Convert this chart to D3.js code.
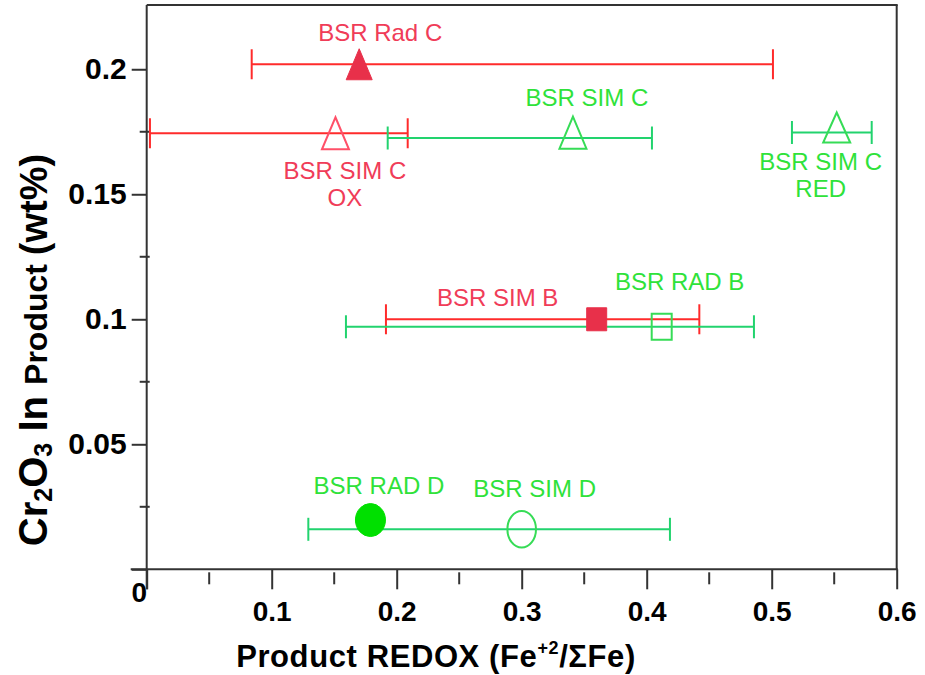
<!DOCTYPE html>
<html>
<head>
<meta charset="utf-8">
<script src="https://cdn.jsdelivr.net/npm/d3@7"></script>
<style>
  html, body { margin: 0; padding: 0; background: #fff; }
  svg { display: block; }
  text { font-family: "Liberation Sans", Arial, sans-serif; }
</style>
</head>
<body>
<svg id="chart" width="925" height="675"></svg>
<script>
// Sample names, product redox (Fe+2/ΣFe) and Cr2O3 content (wt%)
const sampleLabels = [
  ["BSR Rad C"],
  ["BSR SIM C", "OX"],
  ["BSR SIM C"],
  ["BSR SIM C", "RED"],
  ["BSR SIM B"],
  ["BSR RAD B"],
  ["BSR RAD D"],
  ["BSR SIM D"]
];
const redox     = [0.170, 0.151, 0.341, 0.552, 0.360, 0.412, 0.179, 0.300];
const cr2o3     = [0.202, 0.1744, 0.1725, 0.1747, 0.1000, 0.0970, 0.0197, 0.0160];
// Redox range (error bar ends); null where no bar is drawn
const redoxLow  = [0.084, 0.0026, 0.1928, 0.5162, 0.1914, 0.1594, null, 0.1293];
const redoxHigh = [0.501, 0.2088, 0.4042, 0.5800, 0.4421, 0.4858, null, 0.4186];
const sampleGroup = ["red", "red", "green", "green", "red", "green", "green", "green"];
const markerShape = ["triangle", "triangle", "triangle", "triangle", "square", "square", "circle", "circle"];
const markerFilled = [true, false, false, false, true, false, true, false];

// Axis ticks
const xMajorTicks = [0, 0.1, 0.2, 0.3, 0.4, 0.5, 0.6];
const xMinorTicks = [0.05, 0.15, 0.25, 0.35, 0.45, 0.55];
const yMajorTicks = [0, 0.05, 0.1, 0.15, 0.2];
const yMinorTicks = [0.025, 0.075, 0.125, 0.175];
const xTickLabels = ["0", "0.1", "0.2", "0.3", "0.4", "0.5", "0.6"];
const yTickLabels = ["", "0.05", "0.1", "0.15", "0.2"];

// ---- styling / layout (pixels) ----
const markerSize = [
  {w: 26, h: 31}, {w: 27, h: 32}, {w: 27, h: 32}, {w: 27, h: 30},
  {w: 20, h: 23}, {w: 20, h: 26}, {w: 30, h: 33}, {w: 28.6, h: 36.6}
];
// labels placed relative to their marker
const labelOffset = [
  {dx: 21, dy: -32}, {dx: 9.5, dy: 37}, {dx: 14, dy: -41}, {dx: -16, dy: 29},
  {dx: -99, dy: -22}, {dx: 18, dy: -45}, {dx: 8.5, dy: -35}, {dx: 13, dy: -41}
];
const palette = {
  red:   {bar: "#ff2b2b", fill: "#e8304a", stroke: "#ff5068", text: "#f03c58", cap: 30},
  green: {bar: "#22d36e", fill: "#00e000", stroke: "#36dc56", text: "#2fe23a", cap: 23}
};

const svg = d3.select("#chart");
svg.append("rect").attr("width", 925).attr("height", 675).attr("fill", "#fff");

const x = d3.scaleLinear().domain([0, 0.6]).range([146.7, 896.7]);
const y = d3.scaleLinear().domain([0, 0.2257]).range([569.3, 5]);

const axisColor = "#333";

// ---- frame ----
const frame = svg.append("g").attr("stroke", axisColor).attr("stroke-width", 2).attr("fill", "none");
frame.append("line").attr("x1", x(0)).attr("x2", x(0.6) + 1).attr("y1", y(0.2257)).attr("y2", y(0.2257));
frame.append("line").attr("x1", x(0.6)).attr("x2", x(0.6)).attr("y1", y(0.2257)).attr("y2", y(0));

// ---- x axis ----
const xAxis = svg.append("g")
  .attr("transform", `translate(0,${y(0)})`)
  .call(d3.axisBottom(x).tickValues(xMajorTicks).tickSize(20).tickPadding(12)
        .tickFormat((d, i) => xTickLabels[i]));
xAxis.select(".domain").remove();
xAxis.selectAll(".tick line").attr("stroke", axisColor).attr("stroke-width", 2);
xAxis.selectAll(".tick text")
  .attr("fill", "#000").attr("font-size", 28).attr("font-weight", "bold")
  .attr("font-family", "'Liberation Sans', Arial, sans-serif");
xAxis.selectAll(".tick").filter(d => d === 0).select("text")
  .attr("transform", "translate(-8,-19)");
svg.append("line").attr("stroke", axisColor).attr("stroke-width", 2)
  .attr("x1", x(0) - 16).attr("x2", x(0.6) + 1).attr("y1", y(0)).attr("y2", y(0));
svg.append("g").selectAll("line").data(xMinorTicks).join("line")
  .attr("stroke", axisColor).attr("stroke-width", 2)
  .attr("x1", d => x(d)).attr("x2", d => x(d))
  .attr("y1", y(0) + 3).attr("y2", y(0) + 15);

// ---- y axis ----
const yAxis = svg.append("g")
  .attr("transform", `translate(${x(0)},0)`)
  .call(d3.axisLeft(y).tickValues(yMajorTicks).tickSize(15).tickPadding(5)
        .tickFormat((d, i) => yTickLabels[i]));
yAxis.select(".domain").remove();
yAxis.selectAll(".tick line").attr("stroke", axisColor).attr("stroke-width", 2);
yAxis.selectAll(".tick text")
  .attr("fill", "#000").attr("font-size", 30).attr("font-weight", "bold")
  .attr("font-family", "'Liberation Sans', Arial, sans-serif");
svg.append("line").attr("stroke", axisColor).attr("stroke-width", 2)
  .attr("x1", x(0)).attr("x2", x(0)).attr("y1", y(0.2257)).attr("y2", y(0) + 20);
svg.append("g").selectAll("line").data(yMinorTicks).join("line")
  .attr("stroke", axisColor).attr("stroke-width", 2)
  .attr("x1", x(0) - 7).attr("x2", x(0) + 3)
  .attr("y1", d => y(d)).attr("y2", d => y(d));

// ---- axis titles ----
const xTitle = svg.append("text")
  .attr("x", 436).attr("y", 667)
  .attr("text-anchor", "middle").attr("font-size", 31).attr("font-weight", "bold")
  .attr("letter-spacing", 0.6).attr("fill", "#000");
xTitle.append("tspan").text("Product REDOX (Fe");
xTitle.append("tspan").attr("font-size", 18).attr("dy", -13).text("+2");
xTitle.append("tspan").attr("dy", 13).text("/\u03A3Fe)");

const yTitle = svg.append("text")
  .attr("transform", "translate(47,350) rotate(-90)")
  .attr("text-anchor", "middle").attr("font-weight", "bold").attr("fill", "#000");
yTitle.append("tspan").attr("font-size", 40).text("Cr");
yTitle.append("tspan").attr("font-size", 25).attr("dy", 5).text("2");
yTitle.append("tspan").attr("font-size", 40).attr("dy", -5).text("O");
yTitle.append("tspan").attr("font-size", 25).attr("dy", 5).text("3");
yTitle.append("tspan").attr("font-size", 40).attr("dy", -5).text(" In ");
yTitle.append("tspan").attr("font-size", 32).text("Product ");
yTitle.append("tspan").attr("font-size", 38).text("(wt%)");

// ---- data ----
const points = redox.map((v, i) => ({
  i, x: v, y: cr2o3[i], lo: redoxLow[i], hi: redoxHigh[i],
  group: sampleGroup[i], shape: markerShape[i], filled: markerFilled[i],
  size: markerSize[i], off: labelOffset[i], lines: sampleLabels[i]
}));

// error bars
const bars = svg.append("g").selectAll("g").data(points.filter(p => p.lo !== null)).join("g")
  .attr("stroke", p => palette[p.group].bar).attr("stroke-width", 2).attr("fill", "none");
bars.append("line")
  .attr("x1", p => x(p.lo)).attr("x2", p => x(p.hi))
  .attr("y1", p => y(p.y)).attr("y2", p => y(p.y));
bars.append("line")
  .attr("x1", p => x(p.lo)).attr("x2", p => x(p.lo))
  .attr("y1", p => y(p.y) - palette[p.group].cap / 2).attr("y2", p => y(p.y) + palette[p.group].cap / 2);
bars.append("line")
  .attr("x1", p => x(p.hi)).attr("x2", p => x(p.hi))
  .attr("y1", p => y(p.y) - palette[p.group].cap / 2).attr("y2", p => y(p.y) + palette[p.group].cap / 2);

// markers
function markerPath(p) {
  const w = p.size.w, h = p.size.h;
  if (p.shape === "triangle") {
    // red triangles sit on their box centre, green ones on their centroid
    const top = p.group === "green" ? -2 * h / 3 : -h / 2;
    const bottom = top + h;
    return `M0,${top}L${w / 2},${bottom}L${-w / 2},${bottom}Z`;
  }
  if (p.shape === "square") {
    return `M${-w / 2},${-h / 2}h${w}v${h}h${-w}Z`;
  }
  const rx = w / 2, ry = h / 2;
  return `M${-rx},0a${rx},${ry} 0 1,0 ${2 * rx},0a${rx},${ry} 0 1,0 ${-2 * rx},0Z`;
}
svg.append("g").selectAll("path").data(points).join("path")
  .attr("transform", p => `translate(${x(p.x)},${y(p.y)})`)
  .attr("d", markerPath)
  .attr("fill", p => p.filled ? palette[p.group].fill : "none")
  .attr("stroke", p => p.filled ? palette[p.group].fill : palette[p.group].stroke)
  .attr("stroke-width", p => p.filled ? 1 : 2);

// labels
const labels = svg.append("g").selectAll("text").data(points).join("text")
  .attr("text-anchor", "middle")
  .attr("font-size", 24)
  .attr("fill", p => palette[p.group].text);
labels.each(function (p) {
  const t = d3.select(this);
  p.lines.forEach((line, k) => {
    t.append("tspan")
      .attr("x", x(p.x) + p.off.dx)
      .attr("y", y(p.y) + p.off.dy + k * 27 + 8.6)
      .text(line);
  });
});
</script>
</body>
</html>
